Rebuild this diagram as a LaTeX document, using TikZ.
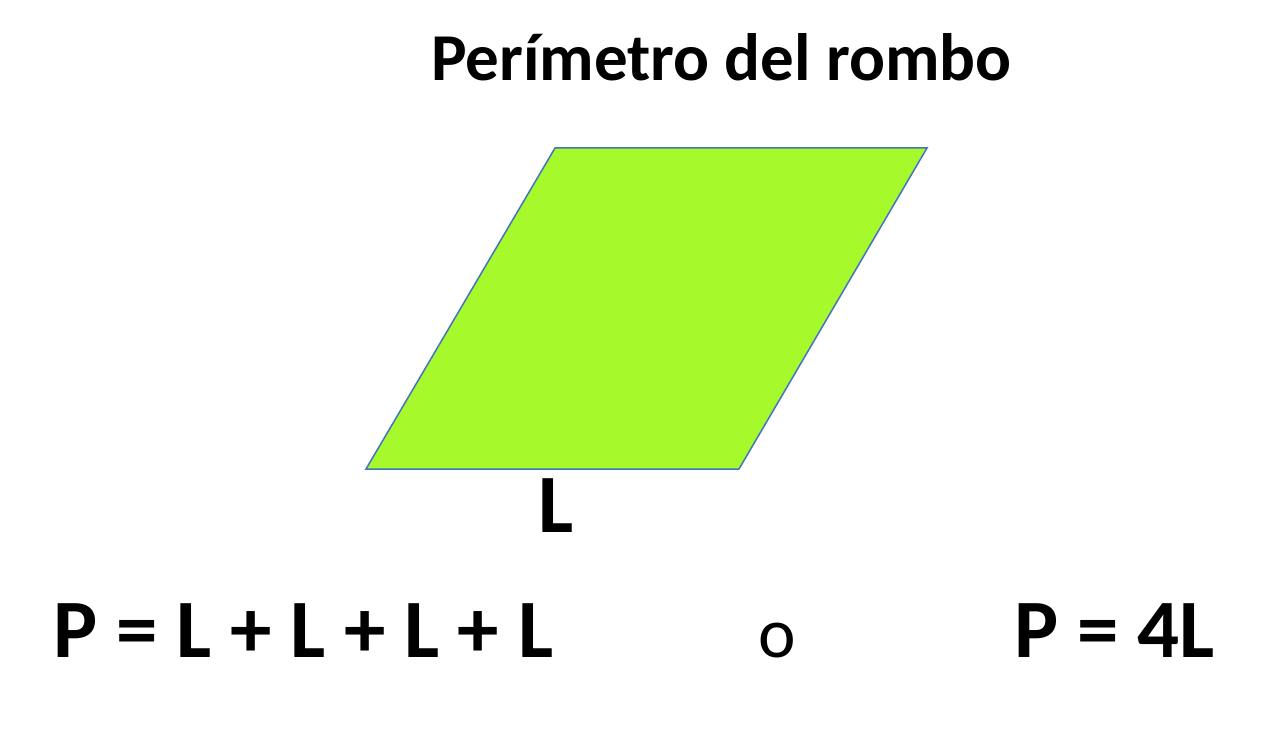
\documentclass[tikz,border=0pt]{standalone}
\usepackage{fontspec}
\setmainfont{Carlito}
\definecolor{verderombo}{RGB}{166,249,42}
\definecolor{bordorombo}{RGB}{68,114,196}
\begin{document}
\begin{tikzpicture}[
    x=1pt,y=-1pt,
    titolo/.style={font=\fontsize{67}{67}\selectfont\bfseries,inner sep=0pt},
    formula/.style={font=\fontsize{83}{83}\selectfont\bfseries,inner sep=0pt},
    congiunz/.style={font=\fontsize{71}{71}\selectfont,inner sep=0pt},
    rombo/.style={fill=verderombo,draw=bordorombo,line width=1.5pt,line join=miter}]

  \useasboundingbox (0,0) rectangle (1282,730);

  % ---- titolo ---------------------------------------------------------------
  \node[titolo,anchor=base] (tit) at (721.5,81) {Perímetro del rombo};

  % ---- il rombo -------------------------------------------------------------
  \coordinate (A) at (366,469);
  \coordinate (B) at (739,469);
  \coordinate (C) at (927,148);
  \coordinate (D) at (555,148);
  \draw[rombo] (A) -- (B) -- (C) -- (D) -- cycle;
  \node[formula,anchor=base] (lato) at (556,532) {L};

  % ---- formule --------------------------------------------------------------
  \node[formula,anchor=base west] (somma) at (53,657) {P = L + L + L + L};
  \node[congiunz,anchor=base] (o) at (777.5,657) {o};
  \node[formula,anchor=base east] (prodotto) at (1215,657) {P = 4L};

\end{tikzpicture}
\end{document}
